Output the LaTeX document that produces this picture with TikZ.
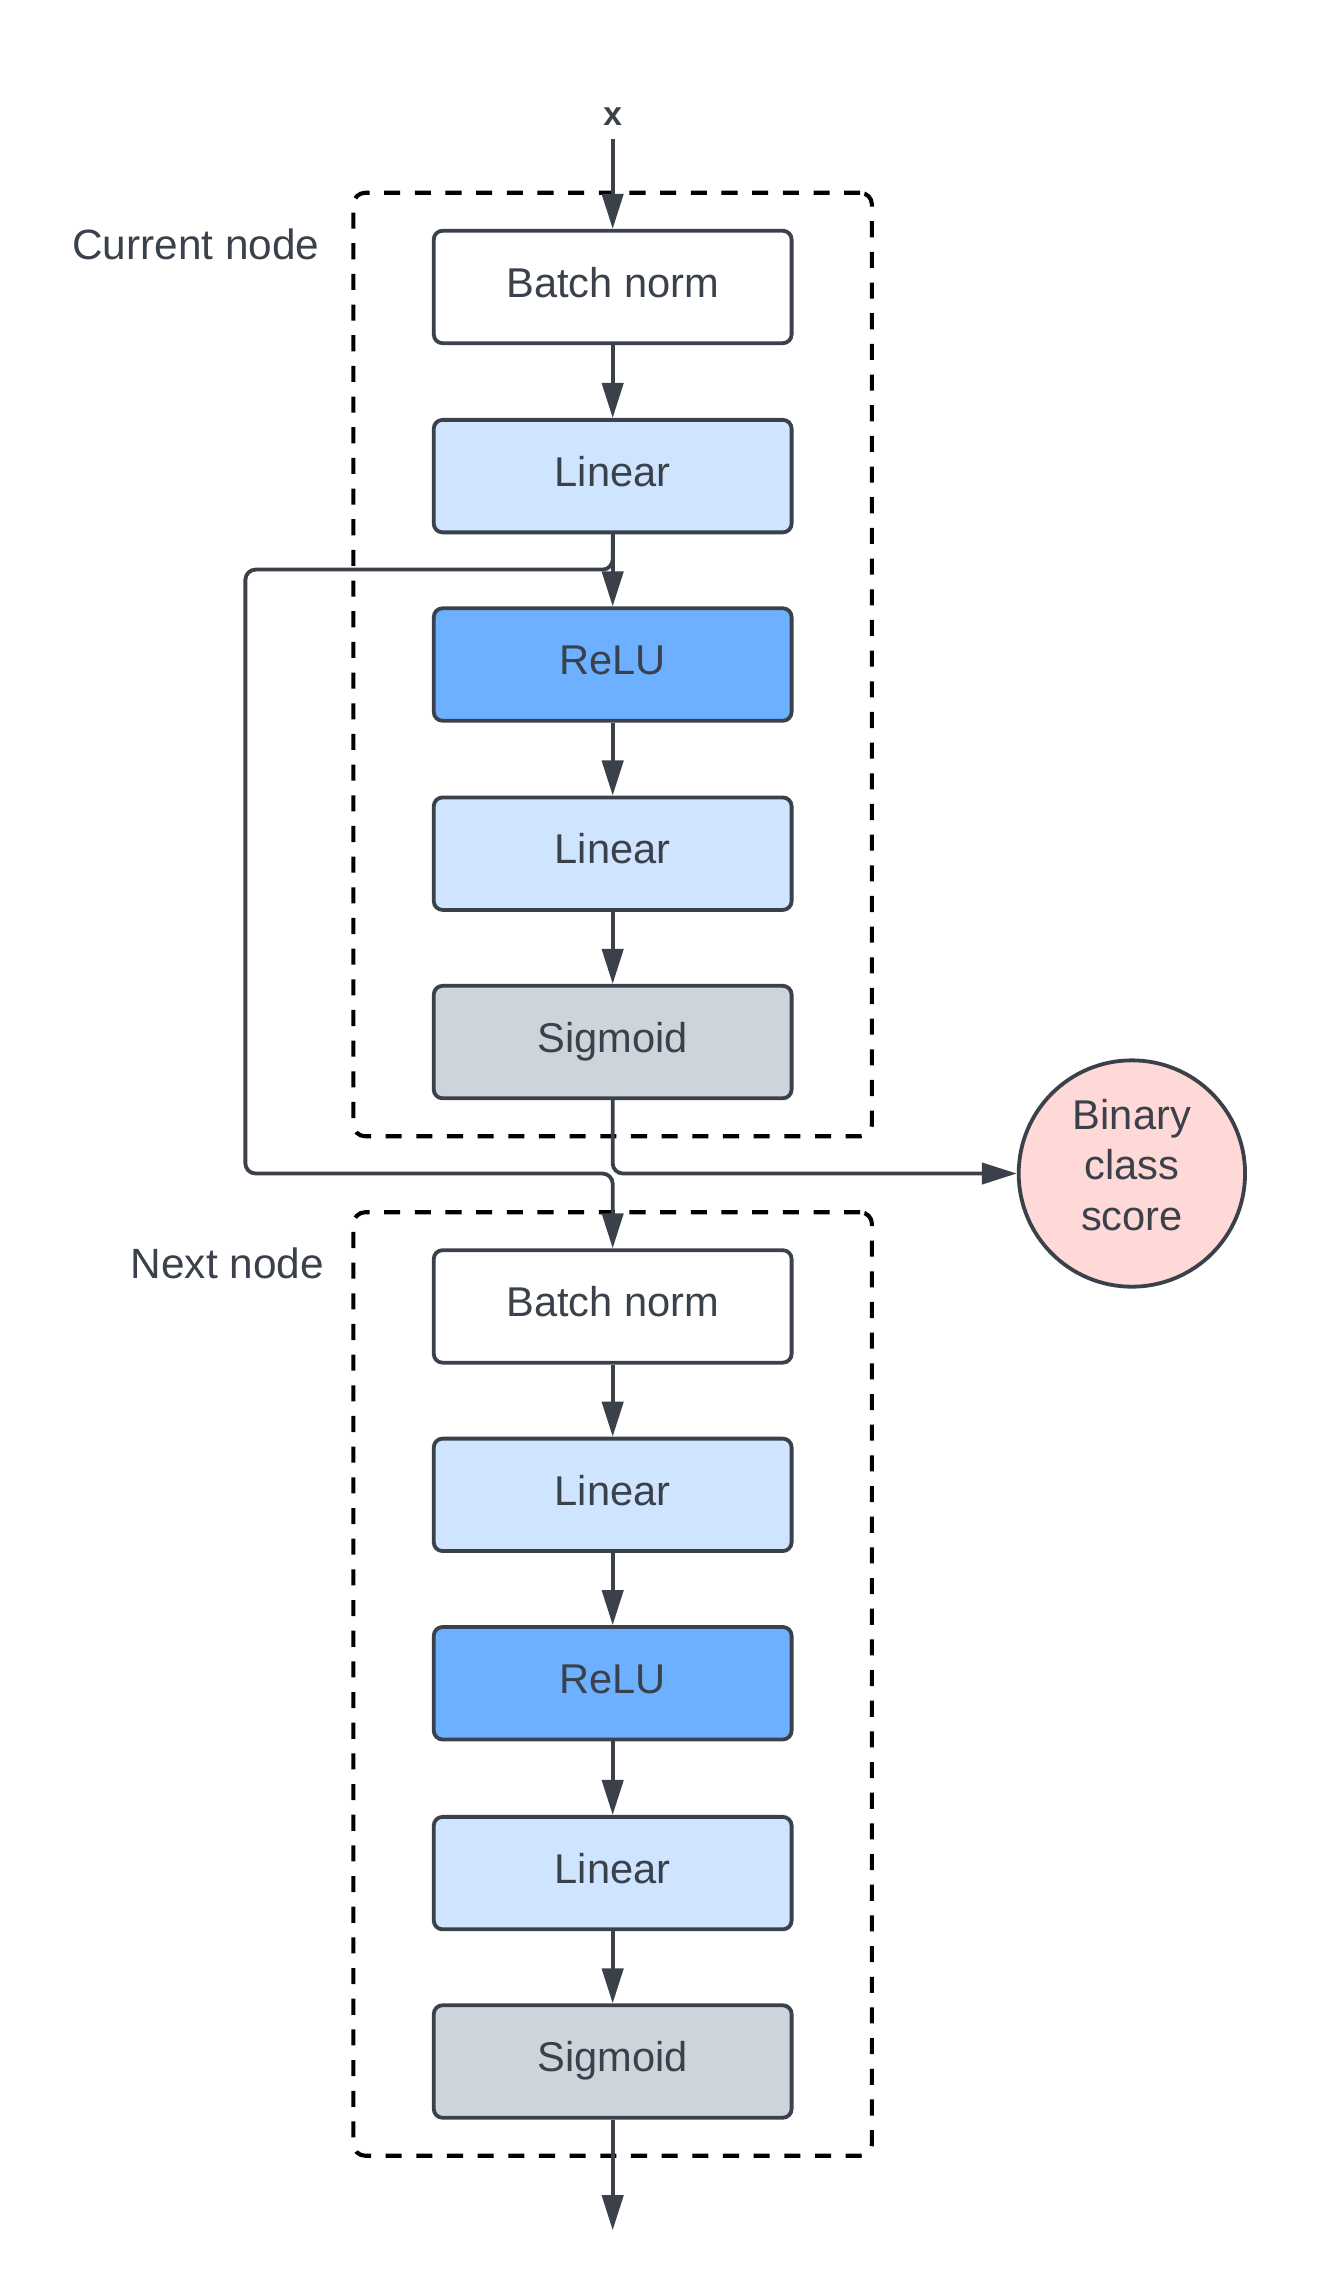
\documentclass[tikz,border=0pt]{standalone}
\usepackage{fontspec}
\setmainfont{Liberation Sans}
\usetikzlibrary{arrows.meta}
\definecolor{ink}{HTML}{3A414A}
\definecolor{linfill}{HTML}{CFE4FF}
\definecolor{relufill}{HTML}{6CB0FF}
\definecolor{sigfill}{HTML}{CED4DB}
\definecolor{circfill}{HTML}{FFD8D8}
\begin{document}
\begin{tikzpicture}[x=1pt,y=-1pt,
  blk/.style={draw=ink, line width=2.6pt, rounded corners=6pt, minimum width=245pt, minimum height=77pt,
              font=\fontsize{28.5}{32}\selectfont, text=ink, inner sep=0pt, fill=white,
              text height=21pt, text depth=7pt},
  lin/.style={blk, fill=linfill},
  relu/.style={blk, fill=relufill},
  sig/.style={blk, fill=sigfill},
  arr/.style={draw=ink, line width=2.6pt, rounded corners=7pt, -{Triangle[length=24pt,width=14.5pt]}},
  grp/.style={draw=black, line width=2.8pt, dash pattern=on 11pt off 10pt, rounded corners=8pt,
              minimum width=355pt, minimum height=646pt, inner sep=0pt},
  lbl/.style={font=\fontsize{29}{32}\selectfont, text=ink, inner sep=0pt}]
\useasboundingbox (0,0) rectangle (910,1557);
% groups
\node[grp] (g1) at (419.5,455) {};
\node[grp] (g2) at (419.5,1153) {};
\node[lbl, anchor=east] (l1) at (219,167) {Current node};
\node[lbl, anchor=east] (l2) at (222,865) {Next node};
% input
\node[anchor=base, inner xsep=0pt, inner ysep=9pt, outer sep=0pt, text=ink,
      font=\fontsize{23}{24}\selectfont\bfseries] (x) at (419.5,86) {x};
% first block
\node[blk]  (bn1)  at (419.5,196.5) {Batch norm};
\node[lin]  (la1)  at (419.5,326) {Linear};
\node[relu] (re1)  at (419.5,455) {ReLU};
\node[lin]  (lb1)  at (419.5,584.5) {Linear};
\node[sig]  (sg1)  at (419.5,713.5) {Sigmoid};
% second block
\node[blk]  (bn2)  at (419.5,894.5) {Batch norm};
\node[lin]  (la2)  at (419.5,1023.5) {Linear};
\node[relu] (re2)  at (419.5,1152.5) {ReLU};
\node[lin]  (lb2)  at (419.5,1282.5) {Linear};
\node[sig]  (sg2)  at (419.5,1411.5) {Sigmoid};
% score
\node[circle, draw=ink, fill=circfill, line width=2.6pt, minimum size=155pt, inner sep=0pt,
      align=center, text=ink, text depth=12pt, font=\fontsize{28.5}{34.5}\selectfont] (score) at (775,803.5) {Binary\\class\\score};
\coordinate (out) at (419.5,1527);
% arrows
\draw[arr] (x.south) -- (bn1.north);
\draw[arr] (bn1) -- (la1);
\draw[arr] (la1) -- (re1);
\draw[arr] (re1) -- (lb1);
\draw[arr] (lb1) -- (sg1);
\draw[arr] (la1.south) -- (419.5,390) -- (168,390) -- (168,803.5) -- (419.5,803.5) -- (bn2.north);
\draw[arr] (sg1.south) -- (419.5,803.5) -- (score.west);
\draw[arr] (bn2) -- (la2);
\draw[arr] (la2) -- (re2);
\draw[arr] (re2) -- (lb2);
\draw[arr] (lb2) -- (sg2);
\draw[arr] (sg2.south) -- (out);
\end{tikzpicture}
\end{document}
